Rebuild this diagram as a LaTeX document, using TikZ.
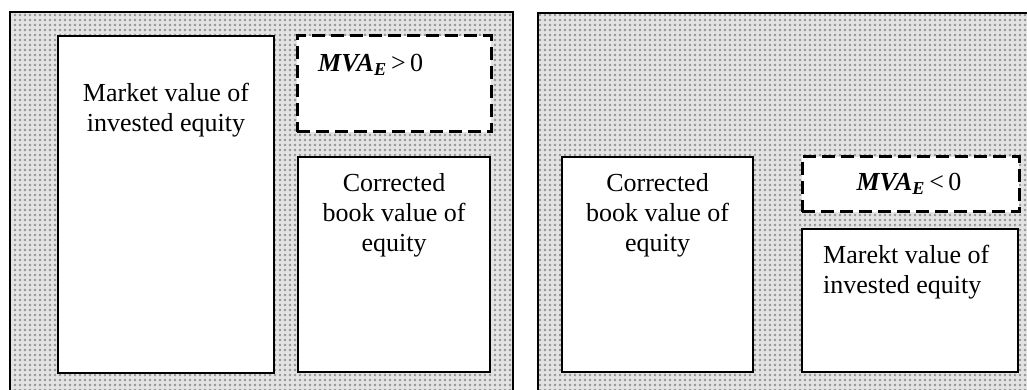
\documentclass[tikz,border=0pt]{standalone}
\usepackage{fontspec}
\setmainfont{Liberation Serif}
\usetikzlibrary{patterns.meta}
\begin{document}
\begin{tikzpicture}[x=1pt,y=1pt,
  frame/.style={draw=black, line width=2pt, preaction={fill=gray!22}, pattern={Dots[radius=1.4pt,distance=5pt]}, pattern color=gray!85},
  solidbox/.style={draw=black, line width=2pt, fill=white, inner sep=0pt, rectangle},
  dashbox/.style={draw=black, line width=3pt, dash pattern=on 13pt off 6pt, fill=white, inner sep=0pt, rectangle},
  lbl/.style={font=\fontsize{26}{30}\selectfont, inner sep=0pt}]
\useasboundingbox (0,0) rectangle (1027,390);
\clip (0,0) rectangle (1027,390);
% outer frames
\path[frame] (10,-10) rectangle (513,378);
\path[frame] (538,-10) rectangle (1040,377);
% left panel
\node[solidbox, minimum width=216pt, minimum height=337pt] (mv) at (166,185.5) {};
\node[dashbox, minimum width=194pt, minimum height=96pt] (dashL) at (394,306) {};
\node[solidbox, minimum width=192pt, minimum height=215pt] (corrL) at (394,125.5) {};
% right panel
\node[solidbox, minimum width=191pt, minimum height=215pt] (corrR) at (657.5,125.5) {};
\node[dashbox, minimum width=217pt, minimum height=55pt] (dashR) at (910.5,205.5) {};
\node[solidbox, minimum width=216pt, minimum height=143pt] (mktR) at (910,89.5) {};
% labels (base anchor = baseline of last line)
\node[lbl, align=center, anchor=base] (tmv) at (166,258) {Market value of\\invested equity};
\node[lbl, anchor=base west] (tdL) at (318,318) {\textbf{\textit{MVA\textsubscript{E}}}\,>\,0};
\node[lbl, align=center, anchor=base] (tcL) at (394,138) {Corrected\\book value of\\equity};
\node[lbl, align=center, anchor=base] (tcR) at (657.5,138) {Corrected\\book value of\\equity};
\node[lbl, anchor=base] (tdR) at (909,199) {\textbf{\textit{MVA\textsubscript{E}}}\,<\,0};
\node[lbl, align=left, anchor=base west] (tmR) at (823,96) {Marekt value of\\invested equity};
\end{tikzpicture}
\end{document}
